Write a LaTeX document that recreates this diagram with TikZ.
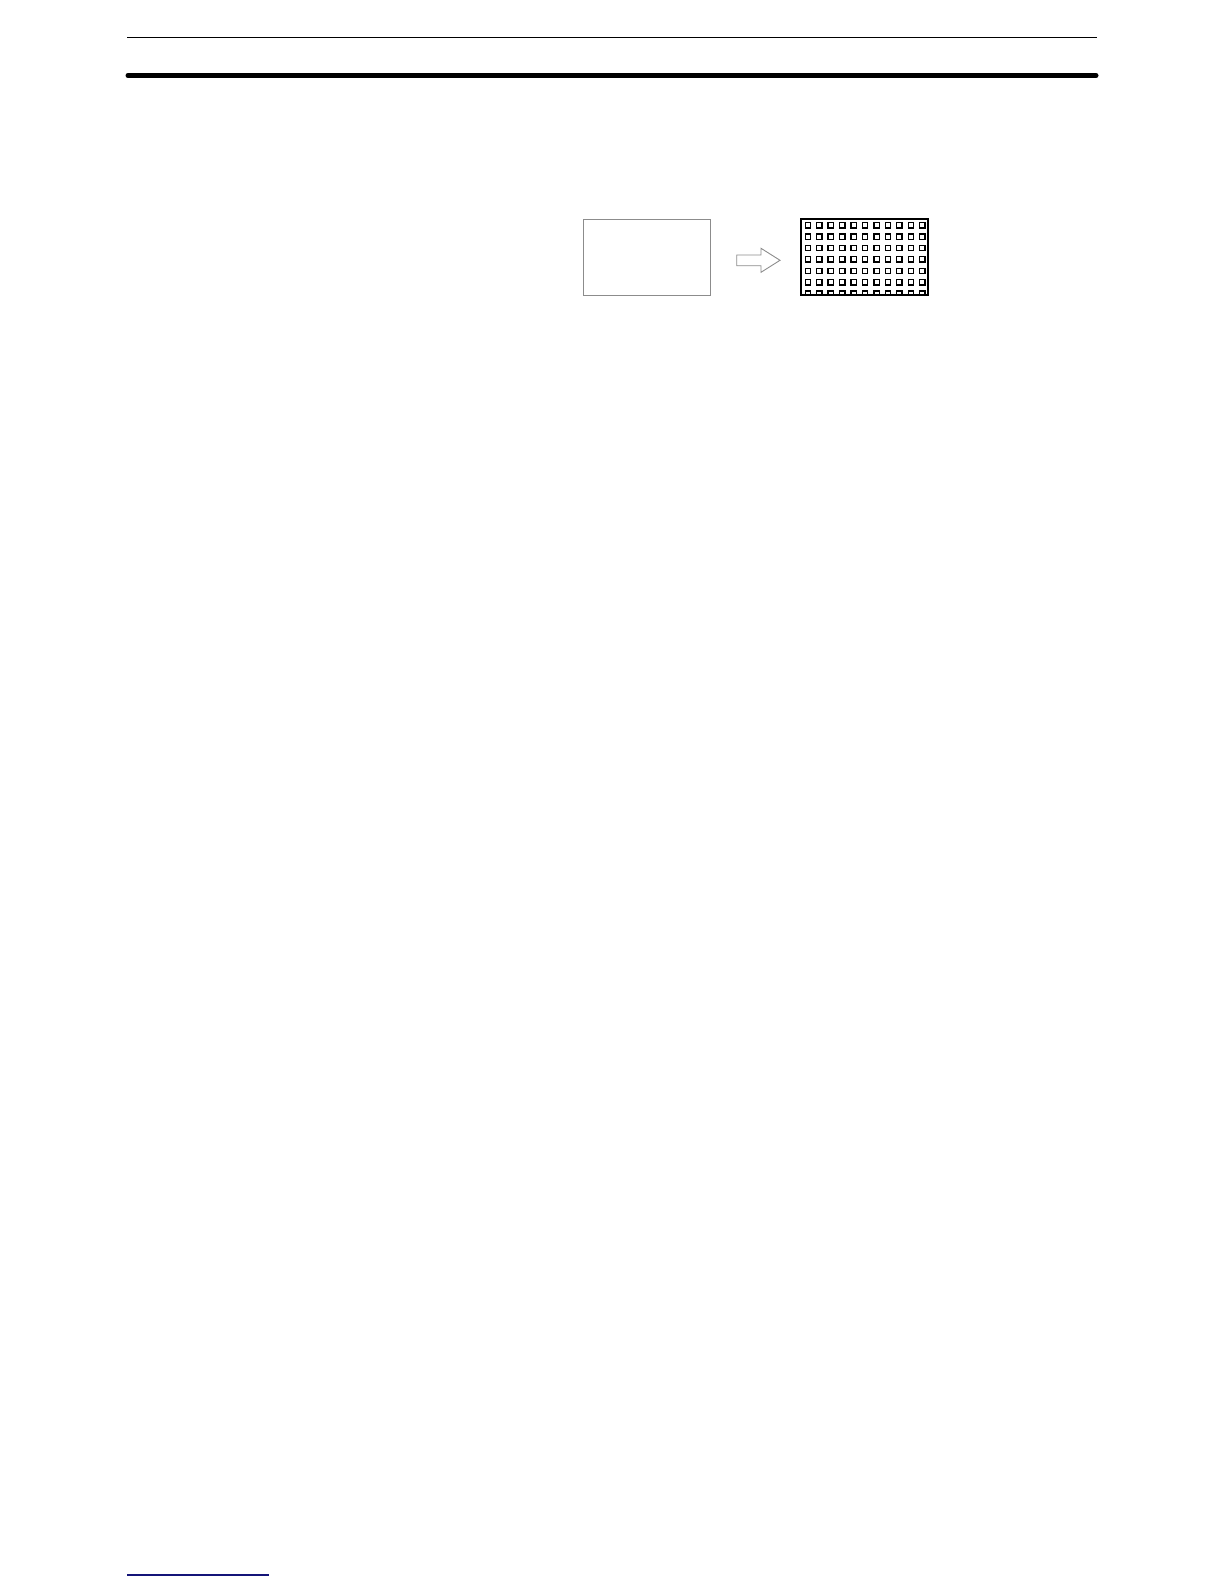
\documentclass[tikz,border=0pt]{standalone}
\definecolor{navy}{RGB}{20,20,120}
\definecolor{boxgray}{RGB}{140,140,140}
\begin{document}
\begin{tikzpicture}[x=1pt,y=-1pt,
  rulethin/.style={line width=1.6pt},
  rulethick/.style={line width=5pt,line cap=round},
  grayframe/.style={draw=boxgray,line width=0.9pt},
  cell/.style={draw=black,line width=1.3pt}]
\useasboundingbox (0,0) rectangle (1224,1584);
% header rules
\draw[rulethin] (127,37.7) -- (1097,37.7);
\draw[rulethick] (128,75.5) -- (1096,75.5);
% footer rule
\draw[navy,line width=1.4pt] (127,1575) -- (269,1575);
% left empty box
\node[grayframe,minimum width=127pt,minimum height=76pt,inner sep=0pt,outer sep=0pt,anchor=north west] (plain) at (583,219) {};
% right grid box
\node[draw=black,line width=1.4pt,minimum width=127pt,minimum height=76pt,inner sep=0pt,outer sep=0pt,anchor=north west] (grid) at (801,219) {};
\begin{scope}
\clip (801,219) rectangle (928,295);
\foreach \i in {0,...,10}{
  \foreach \j in {0,...,6}{
    \draw[cell] ({805.2+11.45*\i},{222.6+11.4*\j}) rectangle ++(5.3,5.3);
  }
}
\end{scope}
% hollow arrow
\draw[boxgray,line width=0.9pt,fill=white] (736.7,255) -- (761,255) -- (761,248.3) -- (780,260.3) -- (761,272.3) -- (761,265.7) -- (736.7,265.7) -- cycle;
\end{tikzpicture}
\end{document}
